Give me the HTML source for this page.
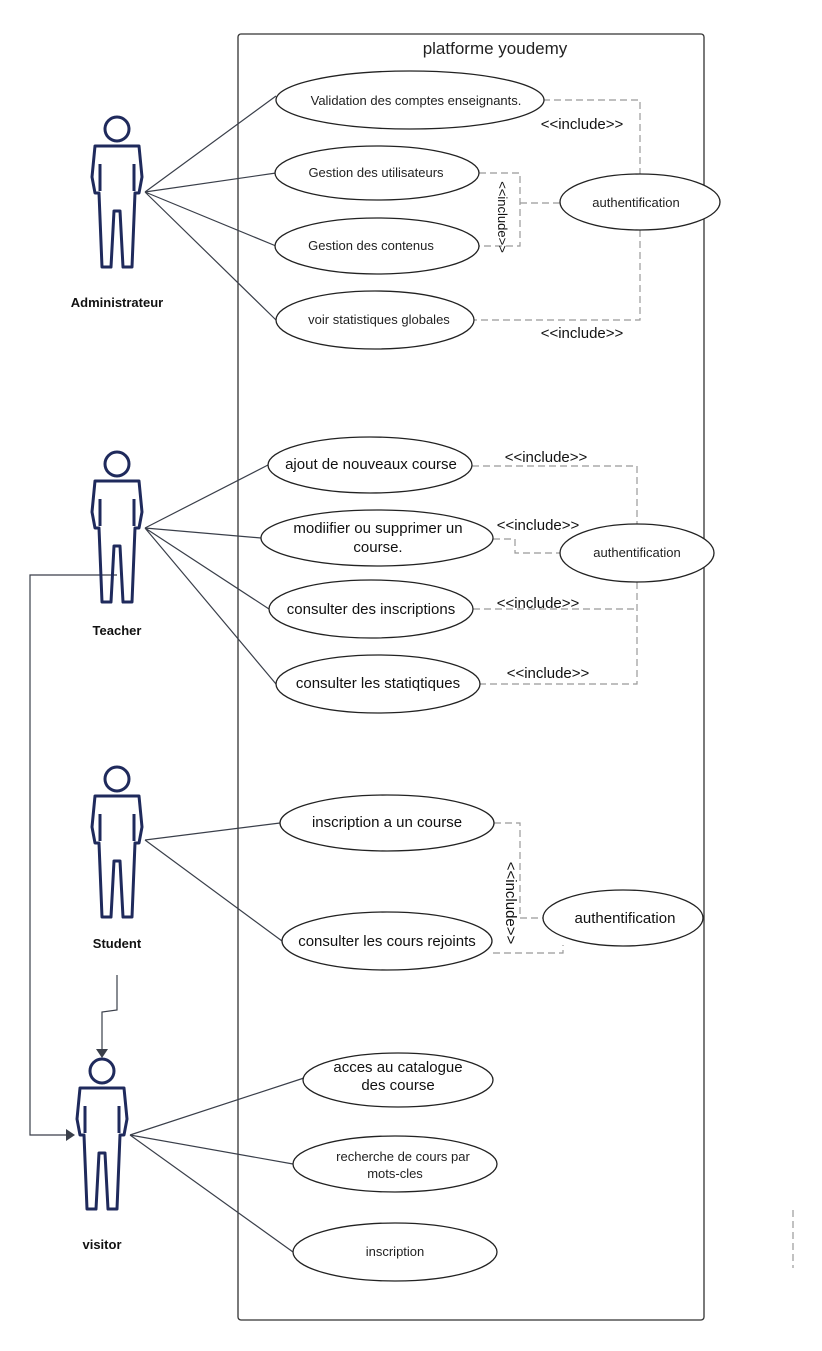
<!DOCTYPE html>
<html><head><meta charset="utf-8"><style>
html,body{margin:0;padding:0;background:#fff;}
svg{display:block;font-family:"Liberation Sans",sans-serif;}
</style></head><body>
<svg width="822" height="1351" viewBox="0 0 822 1351" xmlns="http://www.w3.org/2000/svg">
<defs>
<g id="actor" fill="none" stroke="#1f2a5c" stroke-width="3" stroke-linejoin="round">
<circle cx="0" cy="0" r="12"/>
<path d="M-22,17 L22,17 L25,48 L22,64 L18,64 L15,138 L6,138 L3,82 L-3,82 L-6,138 L-15,138 L-18,64 L-22,64 L-25,48 Z"/>
<path d="M-17,35 L-17,62 M17,35 L17,62"/>
</g>
</defs>
<rect x="238" y="34" width="466" height="1286" rx="3" fill="none" stroke="#333" stroke-width="1.3"/>
<text x="495" y="54" font-size="17" text-anchor="middle" fill="#222">platforme youdemy</text>

<g stroke="#3a3f4a" stroke-width="1.2" fill="none">
<path d="M145,192 L276,96 M145,192 L276,173 M145,192 L276,246 M145,192 L276,320"/>
<path d="M145,528 L268,465 M145,528 L261,538 M145,528 L269,609 M145,528 L276,684"/>
<path d="M145,840 L280,823 M145,840 L282,941"/>
<path d="M130,1135 L304,1078 M130,1135 L293,1164 M130,1135 L293,1252"/>
<path d="M117,575 L30,575 L30,1135 L66,1135"/>
<path d="M117,975 L117,1010 L102,1012 L102,1050"/>
</g>
<path d="M66,1129 L75,1135 L66,1141 Z" fill="#3a3f4a"/>
<path d="M96,1049 L102,1058 L108,1049 Z" fill="#3a3f4a"/>

<use href="#actor" x="117" y="129"/>
<use href="#actor" x="117" y="464"/>
<use href="#actor" x="117" y="779"/>
<use href="#actor" x="102" y="1071"/>
<g font-size="13" font-weight="bold" text-anchor="middle" fill="#111">
<text x="117" y="307">Administrateur</text>
<text x="117" y="635">Teacher</text>
<text x="117" y="948">Student</text>
<text x="102" y="1249">visitor</text>
</g>

<g stroke="#999" stroke-width="1.2" fill="none" stroke-dasharray="7,4">
<path d="M543,100 L640,100 L640,175 M640,230 L640,320 L473,320"/>
<path d="M479,173 L520,173 L520,246 L479,246 M520,203 L561,203"/>
<path d="M472,466 L637,466 L637,524 M493,539 L515,539 L515,553 L560,553 M637,582 L637,684 L480,684 M473,609 L637,609"/>
<path d="M494,823 L520,823 L520,918 L543,918 M493,953 L563,953 L563,945"/>
<path d="M793,1210 L793,1268"/>
</g>

<g fill="#fff" stroke="#222" stroke-width="1.3">
<ellipse cx="410" cy="100" rx="134" ry="29"/>
<ellipse cx="377" cy="173" rx="102" ry="27"/>
<ellipse cx="377" cy="246" rx="102" ry="28"/>
<ellipse cx="375" cy="320" rx="99" ry="29"/>
<ellipse cx="640" cy="202" rx="80" ry="28"/>
<ellipse cx="370" cy="465" rx="102" ry="28"/>
<ellipse cx="377" cy="538" rx="116" ry="28"/>
<ellipse cx="371" cy="609" rx="102" ry="29"/>
<ellipse cx="378" cy="684" rx="102" ry="29"/>
<ellipse cx="637" cy="553" rx="77" ry="29"/>
<ellipse cx="387" cy="823" rx="107" ry="28"/>
<ellipse cx="387" cy="941" rx="105" ry="29"/>
<ellipse cx="623" cy="918" rx="80" ry="28"/>
<ellipse cx="398" cy="1080" rx="95" ry="27"/>
<ellipse cx="395" cy="1164" rx="102" ry="28"/>
<ellipse cx="395" cy="1252" rx="102" ry="29"/>
</g>

<g font-size="13" text-anchor="middle" fill="#222">
<text x="416" y="105">Validation des comptes enseignants.</text>
<text x="376" y="177">Gestion des utilisateurs</text>
<text x="371" y="250">Gestion des contenus</text>
<text x="379" y="324">voir statistiques globales</text>
<text x="636" y="207">authentification</text>
<text x="637" y="557">authentification</text>
<text x="395" y="1256">inscription</text>
<text x="403" y="1161">recherche de cours par</text>
<text x="395" y="1178">mots-cles</text>
</g>
<g font-size="15" text-anchor="middle" fill="#111">
<text x="371" y="469">ajout de nouveaux course</text>
<text x="378" y="533">modiifier ou supprimer un</text>
<text x="378" y="552">course.</text>
<text x="371" y="614">consulter des inscriptions</text>
<text x="378" y="688">consulter les statiqtiques</text>
<text x="387" y="827">inscription a un course</text>
<text x="387" y="946">consulter les cours rejoints</text>
<text x="625" y="923">authentification</text>
<text x="398" y="1072">acces au catalogue</text>
<text x="398" y="1090">des course</text>
</g>
<g font-size="15" text-anchor="middle" fill="#111">
<text x="582" y="129">&lt;&lt;include&gt;&gt;</text>
<text x="582" y="338">&lt;&lt;include&gt;&gt;</text>
<text x="546" y="462">&lt;&lt;include&gt;&gt;</text>
<text x="538" y="530">&lt;&lt;include&gt;&gt;</text>
<text x="538" y="608">&lt;&lt;include&gt;&gt;</text>
<text x="548" y="678">&lt;&lt;include&gt;&gt;</text>
<text transform="translate(498,217) rotate(90)" font-size="13">&lt;&lt;include&gt;&gt;</text>
<text transform="translate(506,903) rotate(90)" font-size="15">&lt;&lt;include&gt;&gt;</text>
</g>
</svg>
</body></html>
